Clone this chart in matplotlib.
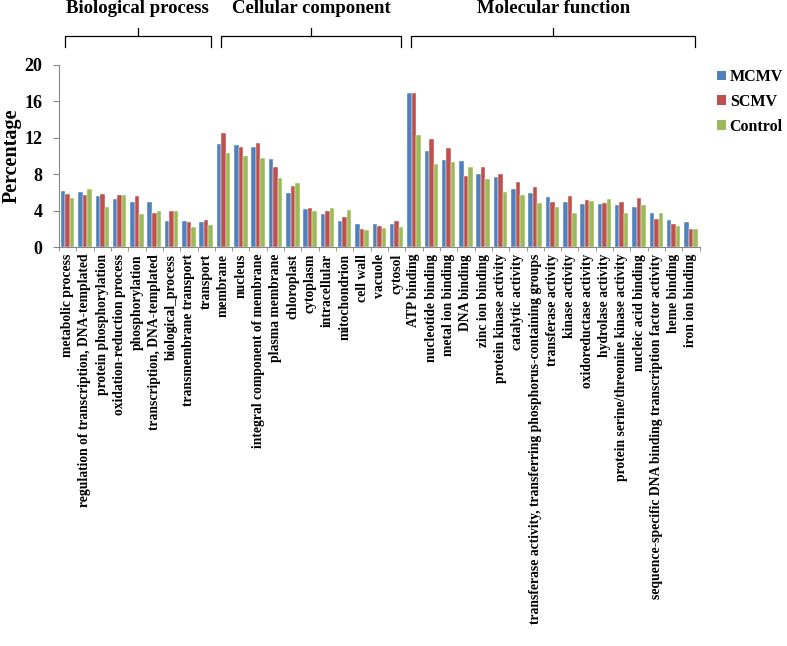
import matplotlib

matplotlib.use("Agg")

import matplotlib.pyplot as plt
import numpy as np
from matplotlib.patches import Patch
from matplotlib.transforms import blended_transform_factory

plt.rcParams["font.family"] = ["Liberation Serif", "DejaVu Serif"]
plt.rcParams["font.weight"] = "bold"

bp_terms = [
    "metabolic process",
    "regulation of transcription, DNA-templated",
    "protein phosphorylation",
    "oxidation-reduction process",
    "phosphorylation",
    "transcription, DNA-templated",
    "biological_process",
    "transmembrane transport",
    "transport",
]
cc_terms = [
    "membrane",
    "nucleus",
    "integral component of membrane",
    "plasma membrane",
    "chloroplast",
    "cytoplasm",
    "intracellular",
    "mitochondrion",
    "cell wall",
    "vacuole",
    "cytosol",
]
mf_terms = [
    "ATP binding",
    "nucleotide binding",
    "metal ion binding",
    "DNA binding",
    "zinc ion binding",
    "protein kinase activity",
    "catalytic activity",
    "transferase activity, transferring phosphorus-containing groups",
    "transferase activity",
    "kinase activity",
    "oxidoreductase activity",
    "hydrolase activity",
    "protein serine/threonine kinase activity",
    "nucleic acid binding",
    "sequence-specific DNA binding transcription factor activity",
    "heme binding",
    "iron ion binding",
]
group_names = ["Biological process", "Cellular component", "Molecular function"]

mcmv = [6.2, 6.0, 5.6, 5.3, 4.95, 4.9, 2.86, 2.86, 2.8,
        11.3, 11.25, 11.0, 9.7, 5.9, 4.22, 3.63, 2.86, 2.57, 2.57, 2.57,
        16.9, 10.5, 9.6, 9.5, 8.05, 7.67, 6.42, 5.98, 5.54, 4.95, 4.77, 4.7,
        4.62, 4.4, 3.7, 2.93, 2.8]
scmv = [5.87, 5.76, 5.83, 5.76, 5.6, 3.74, 4.0, 2.75, 3.0,
        12.5, 11.0, 11.45, 8.77, 6.75, 4.26, 3.92, 3.34, 1.98, 2.31, 2.82,
        16.95, 11.9, 10.83, 7.82, 8.81, 8.04, 7.12, 6.57, 4.95, 5.6, 5.2, 4.88,
        5.0, 5.4, 3.08, 2.49, 1.98]
control = [5.4, 6.42, 4.44, 5.76, 3.63, 3.92, 3.92, 2.16, 2.42,
           10.3, 10.0, 9.76, 7.63, 7.05, 4.0, 4.26, 4.11, 1.87, 2.05, 2.2,
           12.26, 9.1, 9.36, 8.84, 7.49, 6.09, 5.76, 4.84, 4.44, 3.7, 5.1, 5.32,
           3.7, 4.59, 3.74, 2.31, 1.98]

series = [("MCMV", mcmv, "#4F81BD"), ("SCMV", scmv, "#C0504D"), ("Control", control, "#9BBB59")]

terms = bp_terms + cc_terms + mf_terms
x = np.arange(len(terms))
width = 0.26

fig = plt.figure(figsize=(7.87, 6.46), dpi=100)
ax = fig.add_axes([0.075, 0.6176, 0.814, 0.2818])

for i, (name, values, color) in enumerate(series):
    ax.bar(x + (i - 1) * width, values, width, color=color, edgecolor="white",
           linewidth=0.3, label=name)

ax.set_xlim(-0.5, len(terms) - 0.5)
ax.set_ylim(0, 20)
ax.set_yticks(range(0, 21, 4))
ax.tick_params(axis="y", labelsize=13, length=4, color="#868686", pad=8)
ax.set_xticks(x)
ax.set_xticklabels(terms, rotation=90, fontsize=9.85, fontweight="bold")
ax.tick_params(axis="x", length=0, pad=5)
ax.set_xticks(np.arange(len(terms) + 1) - 0.5, minor=True)
ax.tick_params(axis="x", which="minor", length=3, color="#868686")
for side in ["top", "right"]:
    ax.spines[side].set_visible(False)
for side in ["left", "bottom"]:
    ax.spines[side].set_color("#868686")
    ax.spines[side].set_linewidth(0.8)
ax.set_ylabel("Percentage", fontsize=14.5, fontweight="bold", labelpad=2)

# brackets with group titles above the plot
trans = blended_transform_factory(ax.transData, ax.transAxes)
sizes = [len(bp_terms), len(cc_terms), len(mf_terms)]
start = 0
for name, n in zip(group_names, sizes):
    x0 = start - 0.15
    x1 = start + n - 0.75
    xm = (x0 + x1) / 2
    y_end, y_bar, y_tip = 1.1, 1.16, 1.205
    ax.plot([x0, x0, x1, x1], [y_end, y_bar, y_bar, y_end], color="black",
            linewidth=0.9, transform=trans, clip_on=False)
    ax.plot([xm, xm], [y_bar, y_tip], color="black", linewidth=0.9,
            transform=trans, clip_on=False)
    ax.text(xm, 1.31, name, ha="center", va="center", fontsize=13.5,
            fontweight="bold", transform=trans)
    start += n

handles = [Patch(facecolor=c, edgecolor="none", label=n) for n, _, c in series]
fig.legend(handles=handles, loc="upper left", bbox_to_anchor=(0.911, 0.893),
           frameon=False, borderpad=0, borderaxespad=0, handlelength=0.55,
           handleheight=0.55, handletextpad=0.25, labelspacing=0.55,
           prop={"weight": "bold", "size": 11.5})

fig.savefig("out.png", dpi=100)
